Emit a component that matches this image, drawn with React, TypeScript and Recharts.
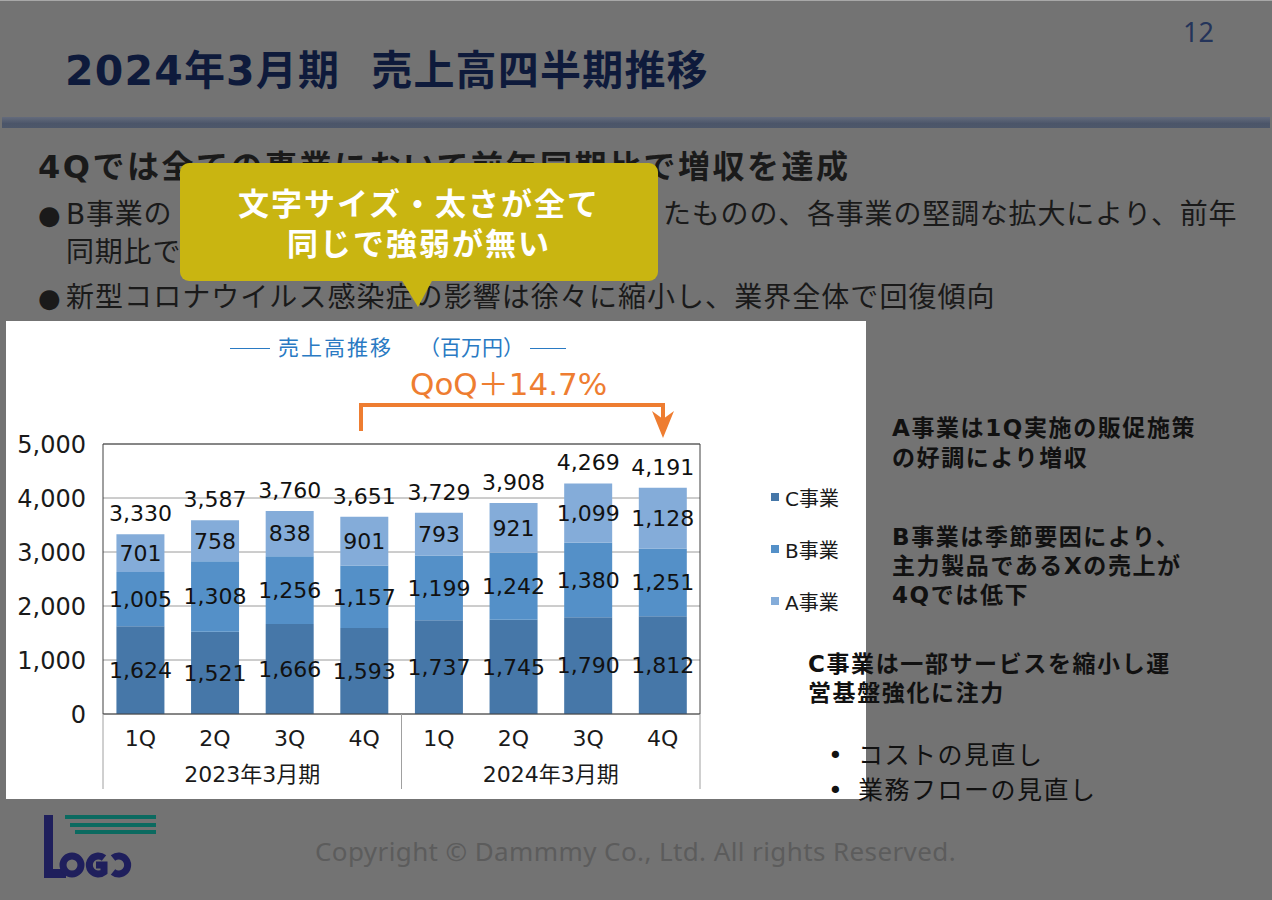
import { BarChart, Bar, XAxis, YAxis, CartesianGrid, ReferenceLine, Legend, LabelList } from 'recharts';

const QUARTERS = ['1Q', '2Q', '3Q', '4Q', '1Q', '2Q', '3Q', '4Q'];
const PERIODS = [
  '2023年3月期', '2023年3月期', '2023年3月期', '2023年3月期',
  '2024年3月期', '2024年3月期', '2024年3月期', '2024年3月期',
];
const C_SALES = [1624, 1521, 1666, 1593, 1737, 1745, 1790, 1812];
const B_SALES = [1005, 1308, 1256, 1157, 1199, 1242, 1380, 1251];
const A_SALES = [701, 758, 838, 901, 793, 921, 1099, 1128];
const TOTALS = [3330, 3587, 3760, 3651, 3729, 3908, 4269, 4191];
const Y_TICKS = [0, 1000, 2000, 3000, 4000, 5000];

const SERIES = [
  { key: 'C', name: 'C事業', color: '#4677a8' },
  { key: 'B', name: 'B事業', color: '#5490c8' },
  { key: 'A', name: 'A事業', color: '#84acd9' },
];

const rows = QUARTERS.map((q, i) => ({
  q,
  period: PERIODS[i],
  C: C_SALES[i],
  B: B_SALES[i],
  A: A_SALES[i],
  total: TOTALS[i],
}));

const FONT = '"DejaVu Sans", "Noto Sans CJK JP", sans-serif';
const fmt = (v: number) => Number(v).toLocaleString('en-US');

function QuarterTick(props: any) {
  const { x, y, payload, index } = props;
  const half = payload?.offset || 37.3;
  const edges: number[] = [];
  if (index === 0) edges.push(x - half);
  if (index === 3 || index === 7) edges.push(x + half);
  return (
    <g>
      {edges.map((ex) => (
        <line key={ex} x1={ex} x2={ex} y1={y} y2={y + 75} stroke="#a0a0a0" />
      ))}
      <text x={x} y={y + 24} textAnchor="middle" dominantBaseline="central" fontSize={22} fill="#1a1a1a" fontFamily={FONT}>
        {payload.value}
      </text>
    </g>
  );
}

function PeriodTick(props: any) {
  const { x, y, payload, index } = props;
  if (index !== 1 && index !== 5) return <g />;
  const half = payload?.offset || 37.3;
  return (
    <text x={x + half} y={y + 24} textAnchor="middle" dominantBaseline="central" fontSize={22} fill="#1a1a1a" fontFamily={FONT}>
      {payload.value}
    </text>
  );
}

function LegendBox() {
  return (
    <div style={{ fontFamily: FONT }}>
      {SERIES.map((s) => (
        <div key={s.key} style={{ display: 'flex', alignItems: 'center', height: 52 }}>
          <span style={{ width: 8, height: 8, background: s.color, marginRight: 6 }} />
          <span style={{ fontSize: 20, color: '#1a1a1a' }}>{s.name}</span>
        </div>
      ))}
    </div>
  );
}

function SalesChart() {
  return (
    <BarChart
      width={860}
      height={478}
      data={rows}
      margin={{ top: 123, right: 165, bottom: 0, left: 0 }}
      barCategoryGap="18%"
    >
      <CartesianGrid vertical={false} stroke="#9a9a9a" yAxisId="v" xAxisId="qtr" />
      <XAxis
        xAxisId="qtr"
        dataKey="q"
        height={36}
        interval={0}
        tickSize={0}
        tickMargin={0}
        tickLine={false}
        axisLine={{ stroke: '#404040' }}
        tick={<QuarterTick />}
      />
      <XAxis
        xAxisId="yr"
        dataKey="period"
        height={49}
        interval={0}
        tickSize={0}
        tickMargin={0}
        tickLine={false}
        axisLine={false}
        tick={<PeriodTick />}
      />
      <YAxis
        yAxisId="v"
        domain={[0, 5000]}
        ticks={Y_TICKS}
        width={97}
        tickSize={0}
        tickMargin={17}
        tickLine={false}
        axisLine={{ stroke: '#404040' }}
        tickFormatter={fmt}
        tick={{ fontSize: 24, fill: '#1a1a1a', fontFamily: FONT }}
      />
      <YAxis
        yAxisId="r"
        orientation="right"
        domain={[0, 5000]}
        width={1}
        tick={false}
        tickLine={false}
        axisLine={{ stroke: '#404040' }}
      />
      <ReferenceLine y={5000} yAxisId="v" xAxisId="qtr" stroke="#404040" />
      <Legend
        layout="vertical"
        align="center"
        verticalAlign="middle"
        content={<LegendBox />}
        wrapperStyle={{ left: 765, top: 150, width: 90 }}
      />
      {SERIES.map((s) => (
        <Bar
          key={s.key}
          dataKey={s.key}
          name={s.name}
          stackId="sales"
          xAxisId="qtr"
          yAxisId="v"
          fill={s.color}
          isAnimationActive={false}
        >
          <LabelList dataKey={s.key} position="center" formatter={fmt} fill="#111" fontSize={22} fontFamily={FONT} />
          {s.key === 'A' && (
            <LabelList dataKey="total" position="top" offset={13} formatter={fmt} fill="#111" fontSize={22} fontFamily={FONT} />
          )}
        </Bar>
      ))}
    </BarChart>
  );
}

const abs = (left: number, top: number, extra: any = {}) => ({
  position: 'absolute' as const,
  left,
  top,
  whiteSpace: 'nowrap' as const,
  fontFamily: FONT,
  ...extra,
});

const bulletLine = { fontSize: 28, lineHeight: '36px', color: '#1a1a1a', letterSpacing: 0.8 };

export default function App() {
  return (
    <div style={{ position: 'absolute', left: 0, top: 0, width: 1272, height: 900, background: '#737373', overflow: 'hidden', borderTop: '1px solid #a8a8a8' }}>
      {/* header */}
      <div style={abs(1183, 13, { fontFamily: '"Noto Sans", sans-serif', fontSize: 27, lineHeight: '36px', color: '#24345a' })}>12</div>
      <div style={abs(65, 46, { fontSize: 41, lineHeight: '48px', fontWeight: 700, color: '#0e1a3b', letterSpacing: 1.2 })}>
        2024年3月期&nbsp;&nbsp;売上高四半期推移
      </div>
      <div style={{ position: 'absolute', left: 2, top: 116, width: 1268, height: 11, background: 'linear-gradient(#646b7c, #4b5569 60%, #4d576a)' }} />

      {/* body text */}
      <div style={abs(38, 146, { fontSize: 32, lineHeight: '40px', fontWeight: 700, color: '#1a1a1a', letterSpacing: 2.5 })}>
        4Qでは全ての事業において前年同期比で増収を達成
      </div>
      <div style={abs(38, 196, bulletLine)}>
        <span style={{ display: 'inline-block', width: 28, fontSize: 26 }}>●</span>B事業の
      </div>
      <div style={abs(663, 196, bulletLine)}>たものの、各事業の堅調な拡大により、前年</div>
      <div style={abs(66, 234, bulletLine)}>同期比で増収</div>
      <div style={abs(38, 279, { ...bulletLine, letterSpacing: 1.05 })}>
        <span style={{ display: 'inline-block', width: 28, fontSize: 26 }}>●</span>新型コロナウイルス感染症の影響は徐々に縮小し、業界全体で回復傾向
      </div>

      {/* callout */}
      <svg style={{ position: 'absolute', left: 0, top: 0 }} width={1272} height={900} pointerEvents="none">
        <rect x={180} y={162} width={478} height={118} rx={9} fill="#c9b511" />
        <polygon points="401,278 433,278 418,306" fill="#c9b511" />
      </svg>
      <div style={abs(180, 183, { width: 478, textAlign: 'center', fontSize: 31, lineHeight: '40px', fontWeight: 700, color: '#fff', letterSpacing: 2 })}>
        文字サイズ・太さが全て
        <br />
        同じで強弱が無い
      </div>

      {/* chart panel */}
      <div style={{ position: 'absolute', left: 6, top: 320, width: 860, height: 478, background: '#fff' }}>
        <SalesChart />
      </div>
      <div style={abs(230, 334, { display: 'flex', alignItems: 'center', fontSize: 21, lineHeight: '26px', color: '#2a7ac3' })}>
        <span style={{ width: 40, borderTop: '1px solid #2a7ac3', marginRight: 8 }} />
        <span style={{ letterSpacing: 2 }}>売上高推移</span>
        <span style={{ marginLeft: 26 }}>（百万円）</span>
        <span style={{ width: 36, borderTop: '1px solid #2a7ac3', marginLeft: 6 }} />
      </div>
      <div style={abs(410, 364, { fontSize: 31, lineHeight: '38px', color: '#ee7d31' })}>QoQ＋14.7%</div>
      <svg style={{ position: 'absolute', left: 0, top: 0 }} width={1272} height={900} pointerEvents="none">
        <polyline points="361,430 361,404 663,404 663,418" fill="none" stroke="#ee7d31" strokeWidth={4} />
        <polygon points="652,410 663,418 674,410 663,437" fill="#ee7d31" />
      </svg>

      {/* comments */}
      <div style={abs(892, 412, { fontSize: 23, lineHeight: '30px', fontWeight: 600, color: '#111', letterSpacing: 1.6 })}>
        A事業は1Q実施の販促施策
        <br />
        の好調により増収
      </div>
      <div style={abs(892, 522, { fontSize: 23, lineHeight: '29px', fontWeight: 600, color: '#111', letterSpacing: 1.6 })}>
        B事業は季節要因により、
        <br />
        主力製品であるXの売上が
        <br />
        4Qでは低下
      </div>
      <div style={abs(808, 649, { fontSize: 23, lineHeight: '29px', fontWeight: 600, color: '#111', letterSpacing: 1.6 })}>
        C事業は一部サービスを縮小し運
        <br />
        営基盤強化に注力
      </div>
      <div style={abs(828, 737, { fontSize: 25, lineHeight: '35px', color: '#111', letterSpacing: 1.5 })}>
        <div><span style={{ display: 'inline-block', width: 30 }}>•</span>コストの見直し</div>
        <div><span style={{ display: 'inline-block', width: 30 }}>•</span>業務フローの見直し</div>
      </div>

      {/* footer */}
      <svg style={{ position: 'absolute', left: 0, top: 0 }} width={1272} height={900} pointerEvents="none">
        <rect x={65} y={814} width={91} height={4} fill="#0b6a60" />
        <rect x={70} y={822} width={86} height={4} fill="#0b6a60" />
        <rect x={75} y={829} width={81} height={4} fill="#0b6a60" />
        <rect x={44} y={814} width={9} height={63} fill="#1f1f5c" />
        <rect x={44} y={868} width={22} height={9} fill="#1f1f5c" />
        <circle cx={72} cy={864} r={9} fill="none" stroke="#1f1f5c" strokeWidth={7} />
        <path d="M104,857 A9,9 0 1 0 104,871 L104,864 L96,864" fill="none" stroke="#1f1f5c" strokeWidth={7} />
        <path d="M113,857 A9,9 0 1 1 113,871" fill="none" stroke="#1f1f5c" strokeWidth={7} />
      </svg>
      <div style={abs(315, 833, { fontFamily: '"Noto Sans", sans-serif', fontSize: 26, lineHeight: '34px', color: '#5c5c5c', letterSpacing: 0.4 })}>
        Copyright © Dammmy Co., Ltd. All rights Reserved.
      </div>
    </div>
  );
}
